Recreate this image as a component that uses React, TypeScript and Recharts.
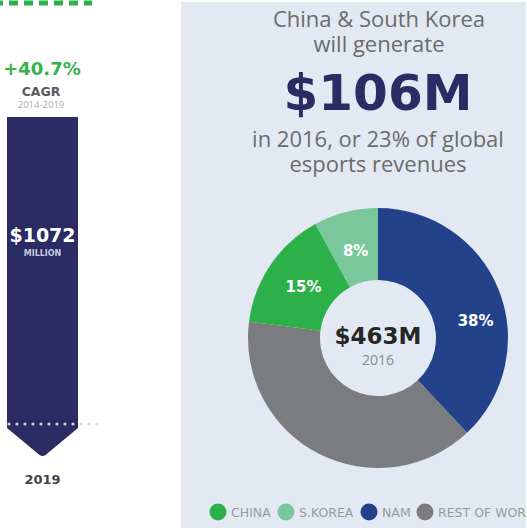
import React from "react";
import { PieChart, Pie, Cell, BarChart, Bar, XAxis, YAxis, Customized } from "recharts";

const sliceNames = ["NAM", "REST OF WORLD", "CHINA", "S.KOREA"];
const sliceValues = [38, 39, 15, 8];
const sliceLabels = ["38%", "", "15%", "8%"];
const sliceColors = ["#23428a", "#7b7c7f", "#2cb14a", "#7ac79b"];

const legendNames = ["CHINA", "S.KOREA", "NAM", "REST OF WORLD"];
const legendColors = ["#2cb14a", "#7ac79b", "#23428a", "#7b7c7f"];

const barYears = ["2019"];
const barValues = [1072];

const pieData = sliceNames.map((name, i) => ({ name, value: sliceValues[i], label: sliceLabels[i] }));
const barData = barYears.map((year, i) => ({ year, value: barValues[i] }));

const FONT = "'DejaVu Sans', sans-serif";
const BODY = "'Open Sans', sans-serif";

const ArrowBar = (props: any) => {
  const { x, y, width, height } = props;
  const tip = 29;
  const bodyBottom = y + height - tip;
  const cx = x + width / 2;
  const d = `M${x},${y} L${x + width},${y} L${x + width},${bodyBottom} L${cx + 3},${y + height - 2} Q${cx},${y + height} ${cx - 3},${y + height - 2} L${x},${bodyBottom} Z`;
  const dots = [];
  for (let px = x + 2; px <= x + 93; px += 8) {
    dots.push(
      <circle key={px} cx={px} cy={bodyBottom - 4} r={1.6} fill={px < x + width ? "#ffffff" : "#d6d8dc"} opacity={px < x + width ? 0.8 : 1} />
    );
  }
  return (
    <g>
      <path d={d} fill="#2b2c63" />
      {dots}
      <text x={cx} y={y + 125} textAnchor="middle" fill="#ffffff" fontFamily={FONT} fontWeight="bold" fontSize={19}>
        ${barValues[0]}
      </text>
      <text x={cx} y={y + 139} textAnchor="middle" fill="#c9cbe0" fontFamily={FONT} fontWeight="bold" fontSize={8}>
        MILLION
      </text>
    </g>
  );
};

const LeftTexts = () => (
  <g>
    <line x1={0} y1={3} x2={92} y2={3} stroke="#2cb14a" strokeWidth={5} strokeDasharray="9 6" strokeDashoffset={6} />
    <text x={42} y={75} textAnchor="middle" fill="#36b34e" fontFamily={FONT} fontWeight="bold" fontSize={18}>
      +40.7%
    </text>
    <text x={41} y={96} textAnchor="middle" fill="#5a5a5a" fontFamily={FONT} fontWeight="bold" fontSize={12.5}>
      CAGR
    </text>
    <text x={41} y={108} textAnchor="middle" fill="#aaaaaa" fontFamily={BODY} fontSize={9.5}>
      2014-2019
    </text>
  </g>
);

const RightTexts = () => (
  <g>
    <text x={379} y={27} textAnchor="middle" fill="#6b6b6b" fontFamily={BODY} fontSize={22}>
      China &amp; South Korea
    </text>
    <text x={379} y={52} textAnchor="middle" fill="#6b6b6b" fontFamily={BODY} fontSize={22}>
      will generate
    </text>
    <text x={378} y={110} textAnchor="middle" fill="#2b2c63" fontFamily={FONT} fontWeight="bold" fontSize={50}>
      $106M
    </text>
    <text x={378} y={147} textAnchor="middle" fill="#6b6b6b" fontFamily={BODY} fontSize={22}>
      in 2016, or 23% of global
    </text>
    <text x={378} y={172} textAnchor="middle" fill="#6b6b6b" fontFamily={BODY} fontSize={22}>
      esports revenues
    </text>
    <text x={378} y={344} textAnchor="middle" fill="#262626" fontFamily={FONT} fontWeight="bold" fontSize={23}>
      $463M
    </text>
    <text x={378} y={365} textAnchor="middle" fill="#8a8a8a" fontFamily={BODY} fontSize={14}>
      2016
    </text>
    {legendNames.map((n, i) => {
      const xs = [218, 286, 369, 425];
      return (
        <g key={n}>
          <circle cx={xs[i]} cy={512} r={8.5} fill={legendColors[i]} />
          <text x={xs[i] + 13} y={516.5} fill="#9a9a9a" fontFamily={FONT} fontSize={12.5}>
            {n}
          </text>
        </g>
      );
    })}
  </g>
);

const renderLabel = (p: any) => {
  const RAD = Math.PI / 180;
  if (!p.payload.label) return null;
  const big = p.percent > 0.3;
  const r = big ? 99 : 90;
  const ang = big ? p.midAngle - 12 : p.midAngle;
  const x = p.cx + r * Math.cos(-ang * RAD);
  const y = p.cy + r * Math.sin(-ang * RAD);
  return (
    <text x={x} y={y} textAnchor="middle" dominantBaseline="central" fill="#ffffff" fontFamily={FONT} fontWeight="bold" fontSize={15}>
      {p.payload.label}
    </text>
  );
};

export default function App() {
  return (
    <div style={{ position: "absolute", left: 0, top: 0, width: 527, height: 528, background: "#ffffff", overflow: "hidden" }}>
      <div style={{ position: "absolute", left: 181, top: 2, width: 345, height: 526, background: "#e3e9f2" }} />
      <div style={{ position: "absolute", left: 0, top: 0 }}>
        <PieChart width={527} height={528} margin={{ top: 0, right: 0, bottom: 0, left: 0 }}>
          <Pie
            data={pieData}
            dataKey="value"
            nameKey="name"
            cx={378}
            cy={338}
            innerRadius={58}
            outerRadius={130}
            startAngle={90}
            endAngle={-270}
            stroke="none"
            label={renderLabel}
            labelLine={false}
            isAnimationActive={false}
          >
            {pieData.map((d, i) => (
              <Cell key={d.name} fill={sliceColors[i]} />
            ))}
          </Pie>
          <Customized component={<RightTexts />} />
        </PieChart>
      </div>
      <div style={{ position: "absolute", left: 0, top: 0 }}>
        <BarChart width={110} height={528} data={barData} margin={{ top: 117, right: 32, bottom: 41, left: 7 }} barCategoryGap={0}>
          <XAxis
            dataKey="year"
            height={30}
            axisLine={false}
            tickLine={false}
            tickMargin={12}
            tick={{ fill: "#444444", fontFamily: FONT, fontWeight: "bold", fontSize: 13 }}
          />
          <YAxis hide domain={[0, "dataMax"]} />
          <Bar dataKey="value" shape={<ArrowBar />} isAnimationActive={false} />
          <Customized component={<LeftTexts />} />
        </BarChart>
      </div>
    </div>
  );
}
